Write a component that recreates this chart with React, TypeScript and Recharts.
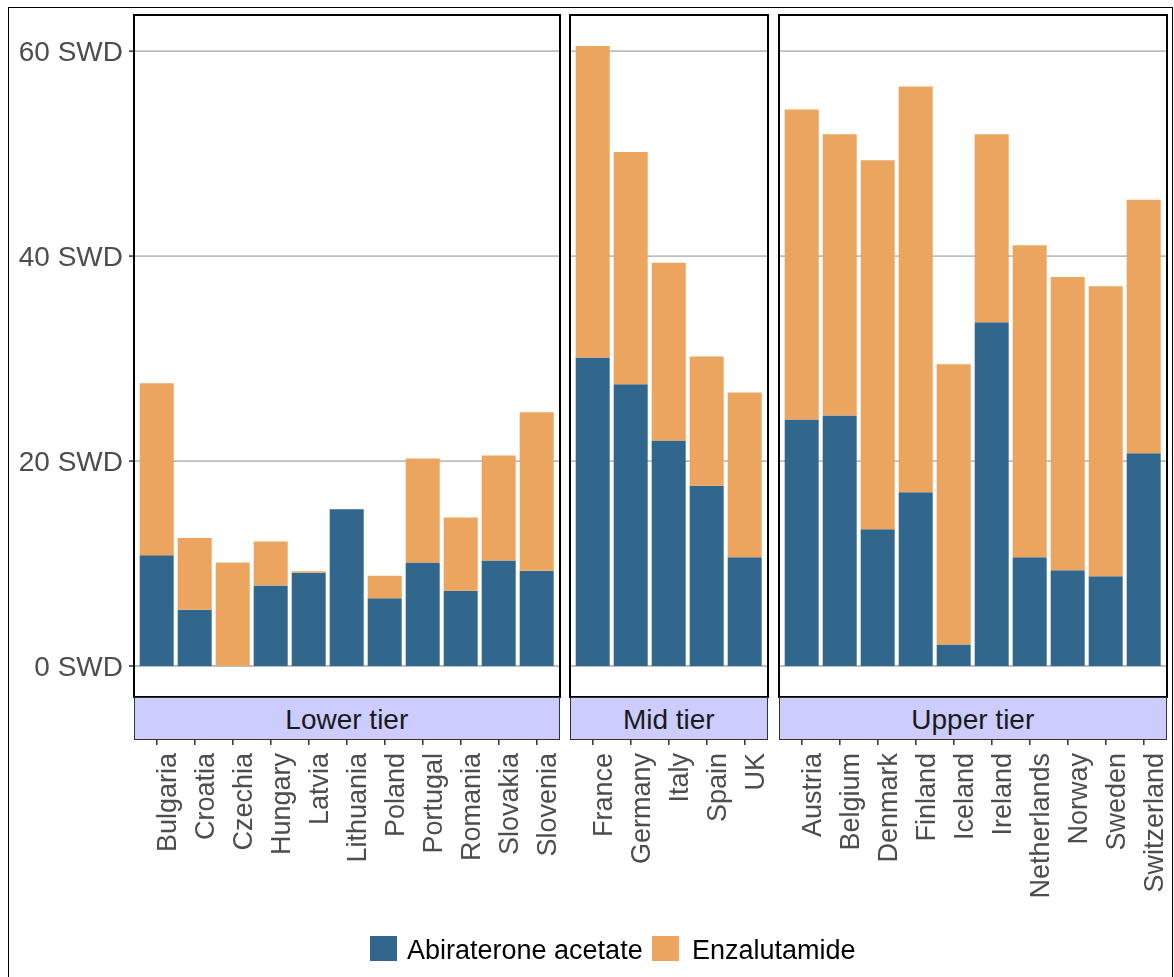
import React from "react";
import { BarChart, Bar, XAxis, YAxis, CartesianGrid } from "recharts";

// values (SWD)
const lowerCountries = ["Bulgaria", "Croatia", "Czechia", "Hungary", "Latvia", "Lithuania", "Poland", "Portugal", "Romania", "Slovakia", "Slovenia"];
const lowerAbiraterone = [10.8, 5.5, 0, 7.85, 9.1, 15.3, 6.6, 10.1, 7.35, 10.3, 9.3];
const lowerEnzalutamide = [16.8, 7.0, 10.1, 4.3, 0.15, 0, 2.2, 10.15, 7.15, 10.25, 15.45];

const midCountries = ["France", "Germany", "Italy", "Spain", "UK"];
const midAbiraterone = [30.1, 27.5, 22.0, 17.6, 10.6];
const midEnzalutamide = [30.4, 22.65, 17.35, 12.6, 16.1];

const upperCountries = ["Austria", "Belgium", "Denmark", "Finland", "Iceland", "Ireland", "Netherlands", "Norway", "Sweden", "Switzerland"];
const upperAbiraterone = [24.05, 24.45, 13.35, 16.95, 2.1, 33.55, 10.6, 9.35, 8.75, 20.75];
const upperEnzalutamide = [30.25, 27.45, 36.0, 39.6, 27.35, 18.35, 30.45, 28.6, 28.3, 24.75];

const tierNames = ["Lower tier", "Mid tier", "Upper tier"];
const seriesNames = ["Abiraterone acetate", "Enzalutamide"];
const yTicks = [0, 20, 40, 60];

const BLUE = "#31678D";
const ORANGE = "#EBA55E";
const FONT = '"Liberation Sans", Arial, sans-serif';

const STEP = 38;
const PANEL_TOP = 15;
const PANEL_H = 682;
const STRIP_H = 43;
const YAXIS_W = 125;
const RIGHT_ROOM = 25; // room for the last rotated label
const ORIGIN = 8; // body margin

const toRows = (names: string[], abi: number[], enz: number[]) =>
  names.map((country, i) => ({ country, abi: abi[i], enz: enz[i] }));

const panels = [
  { name: tierNames[0], left: 134, data: toRows(lowerCountries, lowerAbiraterone, lowerEnzalutamide) },
  { name: tierNames[1], left: 570, data: toRows(midCountries, midAbiraterone, midEnzalutamide) },
  { name: tierNames[2], left: 779, data: toRows(upperCountries, upperAbiraterone, upperEnzalutamide) },
];

function CountryTick(props: any) {
  const { x, y, payload } = props;
  const tx = x + 19;
  const ty = y + STRIP_H + 13;
  return (
    <g>
      <line x1={x} x2={x} y1={y + STRIP_H} y2={y + STRIP_H + 5} stroke="#333" strokeWidth={1.5} />
      <text
        x={tx}
        y={ty}
        transform={`rotate(-90 ${tx} ${ty})`}
        textAnchor="end"
        fontSize={27}
        fontFamily={FONT}
        fill="#4d4d4d"
      >
        {payload.value}
      </text>
    </g>
  );
}

function Panel({ name, left, data, first }: { name: string; left: number; data: any[]; first: boolean }) {
  const plotW = (data.length + 0.2) * STEP;
  const axisW = first ? YAXIS_W : 0;
  const chartLeft = left - axisW - ORIGIN;
  return (
    <>
      <div style={{ position: "absolute", left: chartLeft, top: PANEL_TOP - ORIGIN }}>
        <BarChart
          width={plotW + axisW + RIGHT_ROOM}
          height={PANEL_H + 215}
          data={data}
          margin={{ top: 0, right: RIGHT_ROOM, bottom: 0, left: 0 }}
          barCategoryGap="5%"
        >
          <CartesianGrid vertical={false} stroke="#bebebe" strokeWidth={1.8} />
          <XAxis
            dataKey="country"
            interval={0}
            padding={{ left: STEP * 0.1, right: STEP * 0.1 }}
            tickSize={0}
            tickMargin={0}
            axisLine={false}
            tick={<CountryTick />}
            height={215}
          />
          <YAxis
            type="number"
            domain={[-3.025, 63.525]}
            ticks={yTicks}
            allowDataOverflow
            hide={!first}
            width={axisW}
            axisLine={false}
            tickSize={5}
            tickMargin={6}
            tickLine={{ stroke: "#333", strokeWidth: 1.5 }}
            tick={{ fontSize: 28, fontFamily: FONT, fill: "#4d4d4d" }}
            tickFormatter={(v: number) => `${v} SWD`}
          />
          <Bar dataKey="abi" name={seriesNames[0]} stackId="a" fill={BLUE} isAnimationActive={false} />
          <Bar dataKey="enz" name={seriesNames[1]} stackId="a" fill={ORANGE} isAnimationActive={false} />
        </BarChart>
      </div>
      <div
        style={{
          position: "absolute",
          left: left - ORIGIN - 1.25,
          top: PANEL_TOP - ORIGIN - 1.25,
          width: plotW + 2.5,
          height: PANEL_H + 2.5,
          border: "2.5px solid #000",
          boxSizing: "border-box",
          pointerEvents: "none",
        }}
      />
      <div
        style={{
          position: "absolute",
          left: left - ORIGIN,
          top: PANEL_TOP + PANEL_H - ORIGIN,
          width: plotW,
          height: STRIP_H,
          background: "#CCCCFF",
          border: "1.2px solid #333",
          boxSizing: "border-box",
          display: "flex",
          alignItems: "center",
          justifyContent: "center",
          paddingTop: 2,
          fontSize: 28,
          fontFamily: FONT,
          color: "#1a1a1a",
        }}
      >
        {name}
      </div>
    </>
  );
}

export default function App() {
  return (
    <div style={{ position: "fixed", left: ORIGIN, top: ORIGIN, width: 1165, height: 975, fontFamily: FONT }}>
      <div
        style={{
          position: "absolute",
          left: 0,
          top: -1,
          width: 1165,
          height: 976,
          border: "1.5px solid #000",
          boxSizing: "border-box",
        }}
      />
      {panels.map((p, i) => (
        <Panel key={p.name} name={p.name} left={p.left} data={p.data} first={i === 0} />
      ))}
      <svg style={{ position: "absolute", left: 0, top: 0 }} width={1165} height={975}>
        <rect x={370 - ORIGIN} y={936 - ORIGIN} width={27} height={25} fill={BLUE} />
        <text x={407 - ORIGIN} y={959 - ORIGIN} fontSize={27} fontFamily={FONT} fill="#000">
          {seriesNames[0]}
        </text>
        <rect x={652 - ORIGIN} y={936 - ORIGIN} width={27} height={25} fill={ORANGE} />
        <text x={692 - ORIGIN} y={959 - ORIGIN} fontSize={27} fontFamily={FONT} fill="#000">
          {seriesNames[1]}
        </text>
      </svg>
    </div>
  );
}
